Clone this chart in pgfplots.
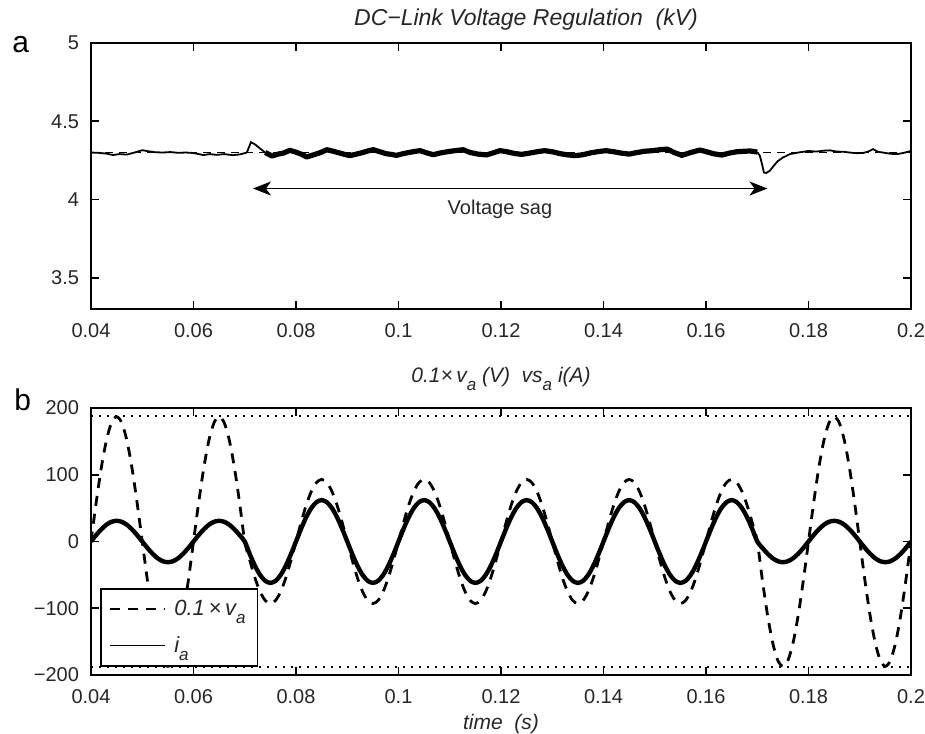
\documentclass[border=0pt]{standalone}
\usepackage{fontspec}
\setmainfont{Liberation Sans}
\usepackage{pgfplots}
\pgfplotsset{compat=1.18}
\usepackage{pgfplotstable}
\usetikzlibrary{arrows.meta}

% DC-link voltage (kV)
\pgfplotstableread{
t u
0.0400 4.300
0.0415 4.298
0.0430 4.293
0.0443 4.284
0.0455 4.290
0.0470 4.287
0.0485 4.300
0.0500 4.315
0.0512 4.308
0.0525 4.302
0.0540 4.300
0.0555 4.303
0.0570 4.298
0.0585 4.300
0.0600 4.297
0.0619 4.284
0.0632 4.290
0.0645 4.285
0.0660 4.290
0.0677 4.283
0.0690 4.288
0.0700 4.296
0.0704 4.300
0.0709 4.340
0.0712 4.366
0.0720 4.352
0.0732 4.320
0.0740 4.300
}\dcA

\pgfplotstableread{
t u
0.0740 4.300
0.0753 4.278
0.0765 4.290
0.0775 4.296
0.0788 4.314
0.0800 4.302
0.0810 4.290
0.0821 4.272
0.0835 4.286
0.0848 4.300
0.0860 4.318
0.0873 4.308
0.0885 4.297
0.0895 4.288
0.0905 4.280
0.0918 4.290
0.0930 4.300
0.0940 4.310
0.0951 4.318
0.0963 4.306
0.0975 4.293
0.0986 4.288
0.0996 4.282
0.1008 4.292
0.1020 4.300
0.1030 4.306
0.1042 4.312
0.1055 4.298
0.1068 4.286
0.1080 4.296
0.1095 4.305
0.1110 4.312
0.1126 4.318
0.1140 4.300
0.1155 4.290
0.1172 4.285
0.1185 4.298
0.1198 4.312
0.1210 4.306
0.1225 4.295
0.1240 4.288
0.1255 4.296
0.1270 4.305
0.1285 4.312
0.1300 4.305
0.1315 4.293
0.1330 4.285
0.1345 4.280
0.1360 4.286
0.1375 4.298
0.1390 4.306
0.1405 4.312
0.1420 4.305
0.1435 4.296
0.1450 4.290
0.1465 4.300
0.1480 4.308
0.1495 4.312
0.1510 4.318
0.1524 4.322
0.1538 4.300
0.1553 4.282
0.1570 4.300
0.1588 4.316
0.1600 4.306
0.1615 4.292
0.1631 4.284
0.1645 4.296
0.1660 4.305
0.1675 4.308
0.1686 4.310
0.1700 4.303
}\dcB

\pgfplotstableread{
t u
0.1700 4.303
0.1705 4.280
0.1709 4.230
0.1713 4.172
0.1718 4.170
0.1725 4.185
0.1732 4.215
0.1740 4.245
0.1750 4.268
0.1764 4.290
0.1780 4.300
0.1800 4.310
0.1815 4.306
0.1830 4.312
0.1842 4.314
0.1855 4.306
0.1868 4.305
0.1880 4.300
0.1893 4.296
0.1906 4.297
0.1916 4.305
0.1926 4.322
0.1935 4.305
0.1945 4.300
0.1960 4.292
0.1973 4.290
0.1986 4.298
0.2000 4.310
}\dcC

% 0.1 x v_a (V) and i_a (A)
\pgfplotstableread{
t v i
0.040 0 0
0.041 57.8 9.6
0.042 110.0 18.2
0.043 151.3 25.1
0.044 177.8 29.5
0.045 187.0 31.0
0.046 177.8 29.5
0.047 151.3 25.1
0.048 110.0 18.2
0.049 57.8 9.6
0.050 0 0
0.051 -57.8 -9.6
0.052 -110.0 -18.2
0.053 -151.3 -25.1
0.054 -177.8 -29.5
0.055 -187.0 -31.0
0.056 -177.8 -29.5
0.057 -151.3 -25.1
0.058 -110.0 -18.2
0.059 -57.8 -9.6
0.060 0 0
0.061 57.8 9.6
0.062 110.0 18.2
0.063 151.3 25.1
0.064 177.8 29.5
0.065 187.0 31.0
0.066 177.8 29.5
0.067 151.3 25.1
0.068 110.0 18.2
0.069 57.8 9.6
0.070 0 0
0.071 -28.7 -19.2
0.072 -54.7 -36.5
0.073 -75.2 -50.2
0.074 -88.4 -59.0
0.075 -93.0 -62.0
0.076 -88.4 -59.0
0.077 -75.2 -50.2
0.078 -54.7 -36.5
0.079 -28.7 -19.2
0.080 0 0
0.081 28.7 19.2
0.082 54.7 36.5
0.083 75.2 50.2
0.084 88.4 59.0
0.085 93.0 62.0
0.086 88.4 59.0
0.087 75.2 50.2
0.088 54.7 36.5
0.089 28.7 19.2
0.090 0 0
0.091 -28.7 -19.2
0.092 -54.7 -36.5
0.093 -75.2 -50.2
0.094 -88.4 -59.0
0.095 -93.0 -62.0
0.096 -88.4 -59.0
0.097 -75.2 -50.2
0.098 -54.7 -36.5
0.099 -28.7 -19.2
0.100 0 0
0.101 28.7 19.2
0.102 54.7 36.5
0.103 75.2 50.2
0.104 88.4 59.0
0.105 93.0 62.0
0.106 88.4 59.0
0.107 75.2 50.2
0.108 54.7 36.5
0.109 28.7 19.2
0.110 0 0
0.111 -28.7 -19.2
0.112 -54.7 -36.5
0.113 -75.2 -50.2
0.114 -88.4 -59.0
0.115 -93.0 -62.0
0.116 -88.4 -59.0
0.117 -75.2 -50.2
0.118 -54.7 -36.5
0.119 -28.7 -19.2
0.120 0 0
0.121 28.7 19.2
0.122 54.7 36.5
0.123 75.2 50.2
0.124 88.4 59.0
0.125 93.0 62.0
0.126 88.4 59.0
0.127 75.2 50.2
0.128 54.7 36.5
0.129 28.7 19.2
0.130 0 0
0.131 -28.7 -19.2
0.132 -54.7 -36.5
0.133 -75.2 -50.2
0.134 -88.4 -59.0
0.135 -93.0 -62.0
0.136 -88.4 -59.0
0.137 -75.2 -50.2
0.138 -54.7 -36.5
0.139 -28.7 -19.2
0.140 0 0
0.141 28.7 19.2
0.142 54.7 36.5
0.143 75.2 50.2
0.144 88.4 59.0
0.145 93.0 62.0
0.146 88.4 59.0
0.147 75.2 50.2
0.148 54.7 36.5
0.149 28.7 19.2
0.150 0 0
0.151 -28.7 -19.2
0.152 -54.7 -36.5
0.153 -75.2 -50.2
0.154 -88.4 -59.0
0.155 -93.0 -62.0
0.156 -88.4 -59.0
0.157 -75.2 -50.2
0.158 -54.7 -36.5
0.159 -28.7 -19.2
0.160 0 0
0.161 28.7 19.2
0.162 54.7 36.5
0.163 75.2 50.2
0.164 88.4 59.0
0.165 93.0 62.0
0.166 88.4 59.0
0.167 75.2 50.2
0.168 54.7 36.5
0.169 28.7 19.2
0.170 0 0
0.171 -57.8 -9.6
0.172 -110.0 -18.2
0.173 -151.3 -25.1
0.174 -177.8 -29.5
0.175 -187.0 -31.0
0.176 -177.8 -29.5
0.177 -151.3 -25.1
0.178 -110.0 -18.2
0.179 -57.8 -9.6
0.180 0 0
0.181 57.8 9.6
0.182 110.0 18.2
0.183 151.3 25.1
0.184 177.8 29.5
0.185 187.0 31.0
0.186 177.8 29.5
0.187 151.3 25.1
0.188 110.0 18.2
0.189 57.8 9.6
0.190 0 0
0.191 -57.8 -9.6
0.192 -110.0 -18.2
0.193 -151.3 -25.1
0.194 -177.8 -29.5
0.195 -187.0 -31.0
0.196 -177.8 -29.5
0.197 -151.3 -25.1
0.198 -110.0 -18.2
0.199 -57.8 -9.6
0.200 0 0
}\wave

\newcommand{\sub}[1]{\raisebox{-0.7ex}{\fontsize{8.5}{8.5}\selectfont #1}}

\pgfplotsset{
  mlab/.style={
    scale only axis, width=410pt,
    xmin=0.04, xmax=0.2,
    axis line style={line width=0.8pt, black},
    tick align=inside, major tick length=4pt,
    tick style={line width=0.8pt, black},
    every tick label/.append style={font=\fontsize{10}{12}\selectfont, text=black!85},
    xtick={0.04,0.06,0.08,0.1,0.12,0.14,0.16,0.18,0.2},
    xticklabels={0.04,0.06,0.08,0.1,0.12,0.14,0.16,0.18,0.2},
    xticklabel style={yshift=-3.5pt},
    yticklabel style={xshift=-2.5pt},
    /pgf/number format/assume math mode=true,
  }
}

\begin{document}
\begin{tikzpicture}
\useasboundingbox (0,0) rectangle (462.5pt,-366.5pt);

\begin{axis}[mlab, at={(45.5pt,-154.5pt)}, anchor=south west, height=133pt,
  ymin=3.3, ymax=5,
  ytick={3.5,4,4.5,5}, yticklabels={3.5,4,4.5,5}]
  \addplot[black, line width=0.6pt, dash pattern=on 4pt off 3pt] coordinates {(0.04,4.3) (0.2,4.3)};
  \addplot[black, line width=0.9pt] table[x=t,y=u]{\dcA};
  \addplot[black, line width=2.6pt, line join=round] table[x=t,y=u]{\dcB};
  \addplot[black, line width=0.9pt] table[x=t,y=u]{\dcC};
  \draw[line width=0.8pt, {Stealth[length=9pt,width=7pt,inset=2.5pt]}-{Stealth[length=9pt,width=7pt,inset=2.5pt]}]
    (axis cs:0.0716,4.07) -- (axis cs:0.172,4.07);
  \node[font=\fontsize{10}{12}\selectfont, text=black!85] at (axis cs:0.1198,3.935) {Voltage sag};
\end{axis}

\begin{axis}[mlab, at={(45.5pt,-337.5pt)}, anchor=south west, height=133.5pt,
  ymin=-200, ymax=200,
  ytick={-200,-100,0,100,200}, yticklabels={−200,−100,0,100,200},
  legend style={at={(0.011,0.03)}, anchor=south west, draw=black, line width=0.8pt,
    font=\itshape\fontsize{11}{13}\selectfont, inner xsep=4pt, inner ysep=3.5pt,
    row sep=5pt, cells={anchor=west}, text=black!85},
  legend image code/.code={\draw[#1] (0pt,0pt) -- (27.5pt,0pt);}]
  \addplot[black, line width=0.7pt, dash pattern=on 0.8pt off 3.2pt, forget plot] coordinates {(0.04,188) (0.2,188)};
  \addplot[black, line width=0.7pt, dash pattern=on 0.8pt off 3.2pt, forget plot] coordinates {(0.04,-188) (0.2,-188)};
  \addplot[black, line width=1.4pt, dash pattern=on 5pt off 4pt, smooth] table[x=t,y=v]{\wave};
  \addlegendentry{\,0.1\,×\,v\sub{a}}
  \addplot[black, line width=2.2pt, smooth, forget plot] table[x=t,y=i]{\wave};
  \addlegendimage{black, line width=0.6pt, solid}
  \addlegendentry{\,i\sub{a}}
\end{axis}

\node[anchor=base west, inner sep=0, font=\fontsize{15}{17}\selectfont] at (6pt,-26.5pt) {a};
\node[anchor=base west, inner sep=0, font=\fontsize{15}{17}\selectfont] at (7pt,-205pt) {b};
\node[font=\itshape\fontsize{11.5}{13}\selectfont, text=black!85] at (263pt,-10pt) {DC−Link Voltage Regulation\ \ (kV)};
\node[font=\itshape\fontsize{10.5}{12}\selectfont, text=black!85] at (250.5pt,-189.5pt) {0.1×\,v\sub{a} (V)\ \ vs\sub{a} i(A)};
\node[font=\itshape\fontsize{10.5}{12}\selectfont, text=black!85] at (250.5pt,-362pt) {time\ \ (s)};
\end{tikzpicture}
\end{document}
